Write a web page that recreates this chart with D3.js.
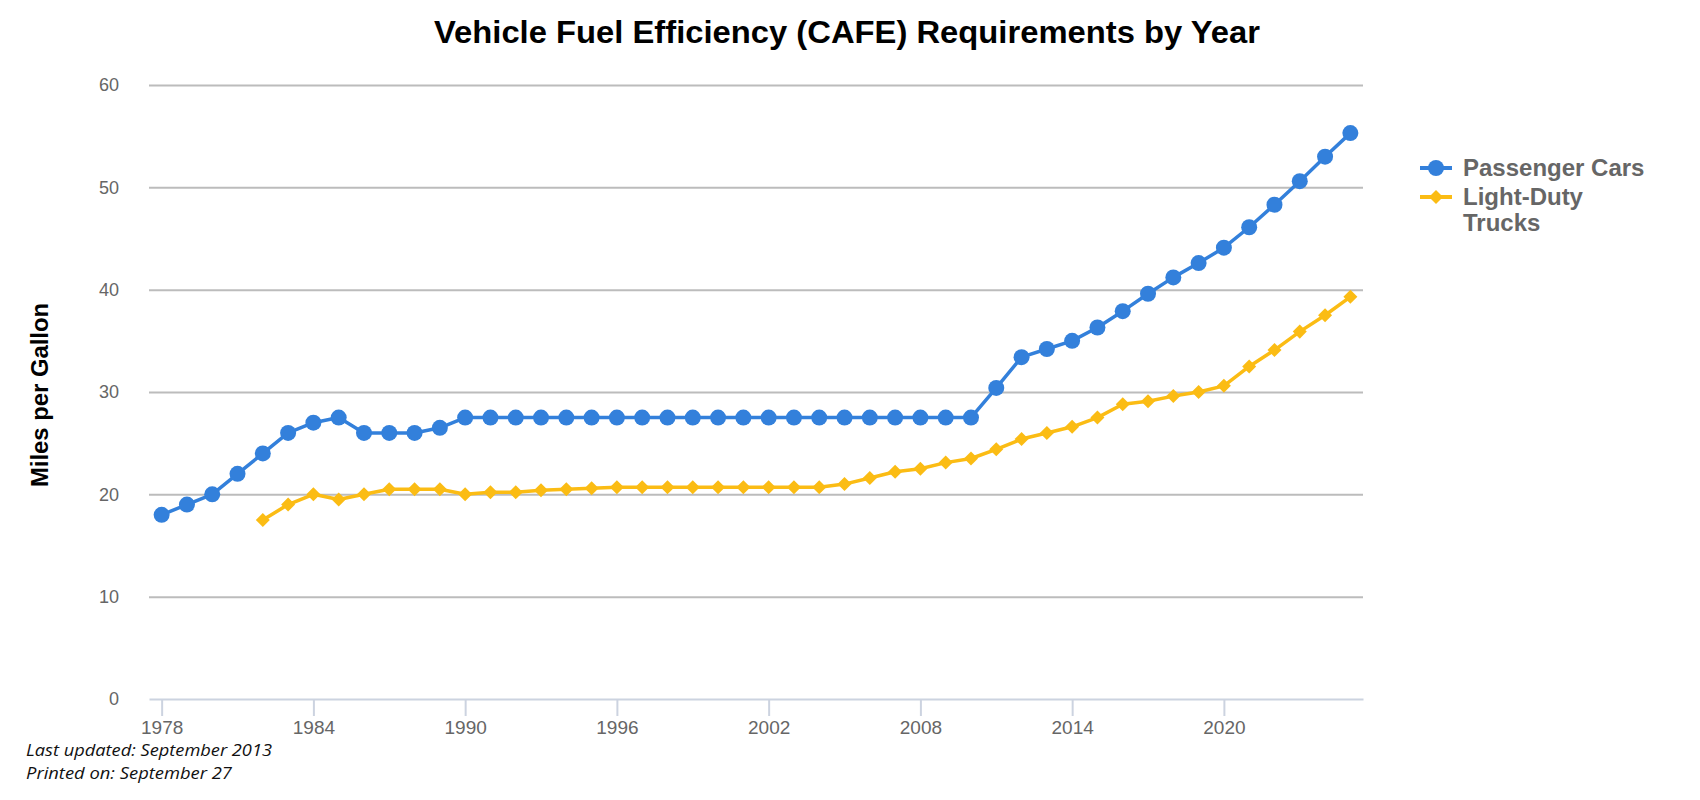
<!DOCTYPE html>
<html>
<head>
<meta charset="utf-8">
<script src="https://cdn.jsdelivr.net/npm/d3@7"></script>
<style>
  body { margin: 0; background: #fff; }
  svg { display: block; }
</style>
</head>
<body>
<div id="chart"></div>
<script>
// data
var carYears = d3.range(1978, 2026);
var carMpg = [18.0, 19.0, 20.0, 22.0, 24.0, 26.0, 27.0, 27.5, 26.0, 26.0, 26.0, 26.5,
  27.5, 27.5, 27.5, 27.5, 27.5, 27.5, 27.5, 27.5, 27.5, 27.5, 27.5, 27.5, 27.5, 27.5,
  27.5, 27.5, 27.5, 27.5, 27.5, 27.5, 27.5,
  30.4, 33.4, 34.2, 35.0, 36.3, 37.9, 39.6, 41.2, 42.6, 44.1, 46.1, 48.3, 50.6, 53.0, 55.3];

var truckYears = d3.range(1982, 2026);
var truckMpg = [17.5, 19.0, 20.0, 19.5, 20.0, 20.5, 20.5, 20.5, 20.0, 20.2, 20.2, 20.4,
  20.5, 20.6, 20.7, 20.7, 20.7, 20.7, 20.7, 20.7, 20.7, 20.7, 20.7, 21.0, 21.6, 22.2,
  22.5, 23.1, 23.5, 24.4, 25.4, 26.0, 26.6, 27.5, 28.8, 29.1, 29.6, 30.0, 30.6, 32.5,
  34.1, 35.9, 37.5, 39.3];

var yTicks = [0, 10, 20, 30, 40, 50, 60];
var xTicks = [1978, 1984, 1990, 1996, 2002, 2008, 2014, 2020];
var seriesNames = ["Passenger Cars", "Light-Duty Trucks"];

var w = 1700;
var h = 800;
var blue = "#3380db";
var yellow = "#fbbc14";

var svg = d3.select("#chart")
  .append("svg")
  .attr("width", w)
  .attr("height", h)
  .style("font-family", "'Liberation Sans', Arial, sans-serif");

var xScale = d3.scaleLinear()
  .domain([1977.5, 2025.5])
  .range([149, 1363]);

var yScale = d3.scaleLinear()
  .domain([0, 60])
  .range([699, 85]);

// title
svg.append("text")
  .attr("x", 847)
  .attr("y", 43)
  .attr("text-anchor", "middle")
  .attr("font-size", 32)
  .attr("font-weight", "bold")
  .attr("fill", "#000")
  .attr("textLength", 826)
  .attr("lengthAdjust", "spacingAndGlyphs")
  .text("Vehicle Fuel Efficiency (CAFE) Requirements by Year");

// gridlines + y labels
var yAxis = d3.axisLeft(yScale)
  .tickValues(yTicks)
  .tickSize(-(1363 - 149))
  .tickPadding(30);

var gy = svg.append("g")
  .attr("class", "y axis")
  .attr("transform", "translate(149,0)")
  .call(yAxis);
gy.select(".domain").remove();
gy.selectAll(".tick line")
  .attr("stroke", "#bcbcbc")
  .attr("stroke-width", 2)
  .filter(function(d) { return d === 0; }).remove();
gy.selectAll(".tick text")
  .attr("fill", "#666")
  .attr("font-size", 18)
  .attr("font-family", "'Liberation Sans', Arial, sans-serif");

// x axis
var xAxis = d3.axisBottom(xScale)
  .tickValues(xTicks)
  .tickFormat(d3.format("d"))
  .tickSize(17)
  .tickSizeOuter(0)
  .tickPadding(5);

var gx = svg.append("g")
  .attr("class", "x axis")
  .attr("transform", "translate(0,699)")
  .call(xAxis);
gx.select(".domain")
  .attr("stroke", "#ccd3e0")
  .attr("stroke-width", 2);
gx.selectAll(".tick line")
  .attr("stroke", "#ccd3e0")
  .attr("stroke-width", 2);
gx.selectAll(".tick text")
  .attr("fill", "#666")
  .attr("font-size", 19)
  .attr("font-family", "'Liberation Sans', Arial, sans-serif");

// y axis title
svg.append("text")
  .attr("text-anchor", "middle")
  .attr("transform", "translate(48,395)rotate(-90)")
  .attr("font-size", 23)
  .attr("font-weight", "bold")
  .attr("fill", "#000")
  .attr("textLength", 184)
  .attr("lengthAdjust", "spacingAndGlyphs")
  .text("Miles per Gallon");

var line = d3.line()
  .x(function(d) { return xScale(d[0]); })
  .y(function(d) { return yScale(d[1]); });

var trucks = d3.zip(truckYears, truckMpg);
var cars = d3.zip(carYears, carMpg);

// trucks
svg.append("path")
  .datum(trucks)
  .attr("d", line)
  .attr("fill", "none")
  .attr("stroke", yellow)
  .attr("stroke-width", 3.5)
  .attr("stroke-linejoin", "round");

var diamond = d3.symbol().type(d3.symbolDiamond2).size(125);

svg.selectAll("path.truck")
  .data(trucks)
  .enter()
  .append("path")
  .attr("class", "truck")
  .attr("d", diamond)
  .attr("transform", function(d) {
    return "translate(" + xScale(d[0]) + "," + yScale(d[1]) + ")";
  })
  .attr("fill", yellow);

// cars
svg.append("path")
  .datum(cars)
  .attr("d", line)
  .attr("fill", "none")
  .attr("stroke", blue)
  .attr("stroke-width", 3.5)
  .attr("stroke-linejoin", "round");

svg.selectAll("circle.car")
  .data(cars)
  .enter()
  .append("circle")
  .attr("class", "car")
  .attr("cx", function(d) { return xScale(d[0]); })
  .attr("cy", function(d) { return yScale(d[1]); })
  .attr("r", 8)
  .attr("fill", blue);

// legend
var legend = svg.append("g").attr("transform", "translate(1420,0)");

legend.append("line")
  .attr("x1", 0).attr("x2", 32)
  .attr("y1", 168).attr("y2", 168)
  .attr("stroke", blue).attr("stroke-width", 4);
legend.append("circle")
  .attr("cx", 16).attr("cy", 168).attr("r", 8)
  .attr("fill", blue);
legend.append("text")
  .attr("x", 43).attr("y", 176)
  .attr("font-size", 24)
  .attr("font-weight", "bold")
  .attr("fill", "#666")
  .text(seriesNames[0]);

legend.append("line")
  .attr("x1", 0).attr("x2", 32)
  .attr("y1", 197).attr("y2", 197)
  .attr("stroke", yellow).attr("stroke-width", 4);
legend.append("path")
  .attr("d", diamond)
  .attr("transform", "translate(16,197)")
  .attr("fill", yellow);
var lt = legend.append("text")
  .attr("x", 43).attr("y", 205)
  .attr("font-size", 24)
  .attr("font-weight", "bold")
  .attr("fill", "#666");
lt.append("tspan").attr("x", 43).text(seriesNames[1].split(" ")[0]);
lt.append("tspan").attr("x", 43).attr("dy", 26).text(seriesNames[1].split(" ")[1]);

// footnotes
var foot = svg.append("g")
  .attr("font-family", "'Open Sans', sans-serif")
  .attr("font-style", "italic")
  .attr("font-size", 17)
  .attr("fill", "#111");
foot.append("text").attr("x", 26).attr("y", 756)
  .attr("textLength", 246).attr("lengthAdjust", "spacingAndGlyphs")
  .text("Last updated: September 2013");
foot.append("text").attr("x", 26).attr("y", 779)
  .attr("textLength", 206).attr("lengthAdjust", "spacingAndGlyphs")
  .text("Printed on: September 27");
</script>
</body>
</html>
